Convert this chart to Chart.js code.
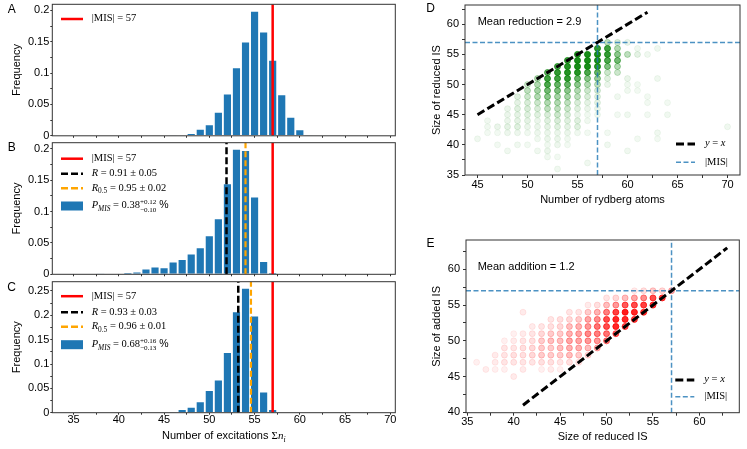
<!DOCTYPE html>
<html>
<head>
<meta charset="utf-8">
<script src="https://cdn.jsdelivr.net/npm/chart.js@4.4.1/dist/chart.umd.min.js"></script>
<style>
  body { margin: 0; background: #fff; }
  #fig { position: relative; width: 747px; height: 449px; overflow: hidden; background: #fff; }
  #fig canvas { position: absolute; }
</style>
</head>
<body>
<div id="fig">
  <canvas id="histA" width="400" height="140" style="left:0;top:0"></canvas>
  <canvas id="histB" width="400" height="140" style="left:0;top:140px"></canvas>
  <canvas id="histC" width="400" height="169" style="left:0;top:280px"></canvas>
  <canvas id="scatD" width="367" height="220" style="left:380px;top:0"></canvas>
  <canvas id="scatE" width="367" height="229" style="left:380px;top:220px"></canvas>
</div>
<script>
const SANS = '"Liberation Sans", Arial, sans-serif';
const SERIF = '"Liberation Serif", "Times New Roman", serif';
Chart.defaults.font.family = SANS;
Chart.defaults.font.size = 11;
Chart.defaults.color = '#000';

// ---- histograms (A, B, C) ----
const MIS = 57;
const histXTicks = [35, 37.5, 40, 42.5, 45, 47.5, 50, 52.5, 55, 57.5, 60, 62.5, 65, 67.5, 70];
const freqTicksAB = [0, 0.025, 0.05, 0.075, 0.1, 0.125, 0.15, 0.175, 0.2];
const freqTicksC = [0, 0.025, 0.05, 0.075, 0.1, 0.125, 0.15, 0.175, 0.2, 0.225, 0.25];

// A: raw samples
const binsA = [46, 47, 48, 49, 50, 51, 52, 53, 54, 55, 56, 57, 58, 59, 60, 61, 62];
const freqA = [0.0005, 0.001, 0.004, 0.011, 0.018, 0.038, 0.067, 0.109, 0.150, 0.199, 0.166, 0.121, 0.066, 0.030, 0.010, 0.002, 0.001];
// B
const binsB = [38, 39, 40, 41, 42, 43, 44, 45, 46, 47, 48, 49, 50, 51, 52, 53, 54, 55, 56, 57];
const freqB = [0.0005, 0.001, 0.001, 0.003, 0.004, 0.009, 0.012, 0.011, 0.020, 0.024, 0.033, 0.043, 0.062, 0.089, 0.145, 0.200, 0.198, 0.124, 0.021, 0.003];
const rB = 51.9, r05B = 54.0;
// C
const binsC = [46, 47, 48, 49, 50, 51, 52, 53, 54, 55, 56, 57];
const freqC = [0.002, 0.007, 0.012, 0.023, 0.046, 0.068, 0.124, 0.208, 0.256, 0.199, 0.043, 0.007];
const rC = 53.2, r05C = 54.6;

// ---- D: rydberg atoms vs size of reduced IS (alpha ~ share of samples) ----
const rydberg = [45, 46, 47, 48, 49, 50, 51, 52, 53, 54, 55, 56, 57, 58, 59, 60, 61, 62, 63, 64, 70];
const reducedD = [
  [41],
  [42, 43, 44],
  [40, 42, 43],
  [39, 42, 43, 44, 45, 46],
  [40, 42, 43, 44, 45, 46, 47, 48],
  [40, 42, 43, 44, 45, 46, 47, 48, 49, 50],
  [39, 41, 42, 43, 44, 45, 46, 47, 48, 49, 50, 51],
  [38, 39, 40, 41, 42, 43, 44, 45, 46, 47, 48, 49, 50, 51, 52],
  [36, 38, 40, 41, 42, 43, 44, 45, 46, 47, 48, 49, 50, 51, 52, 53],
  [40, 41, 42, 43, 44, 45, 46, 47, 48, 49, 50, 51, 52, 53, 54],
  [42, 43, 44, 45, 46, 47, 48, 49, 50, 51, 52, 53, 54, 55],
  [37, 42, 44, 45, 46, 47, 48, 49, 50, 51, 52, 53, 54, 55],
  [45, 46, 47, 48, 49, 50, 51, 52, 53, 54, 55, 56],
  [40, 42, 50, 51, 52, 53, 54, 55, 56, 57],
  [45, 48, 52, 53, 54, 55, 56, 57],
  [39, 45, 49, 50, 51, 55, 57],
  [41, 49, 50, 55, 56],
  [45, 47, 48, 55],
  [41, 42, 51, 56],
  [45, 47],
  [43]
];
const shareD = [
  [.06],
  [.05, .06, .06],
  [.05, .05, .08],
  [.06, .07, .1, .08, .08, .08],
  [.06, .07, .12, .1, .1, .12, .1, .12],
  [.05, .06, .08, .1, .12, .15, .15, .2, .25, .2],
  [.06, .06, .07, .08, .08, .12, .15, .2, .3, .35, .3, .3],
  [.06, .08, .06, .08, .08, .1, .12, .15, .25, .3, .45, .55, .7, .75, .6],
  [.06, .05, .07, .08, .08, .12, .15, .2, .25, .3, .35, .5, .6, .75, .8, .7],
  [.05, .06, .08, .1, .12, .15, .2, .25, .35, .45, .6, .8, .85, .85, .75],
  [.06, .12, .12, .08, .12, .15, .25, .3, .45, .6, .85, .9, .9, .85],
  [.06, .05, .06, .06, .08, .1, .15, .2, .3, .45, .7, .9, .9, .9],
  [.06, .08, .1, .12, .15, .25, .4, .6, .85, .9, .9, .8],
  [.06, .05, .08, .12, .2, .5, .7, .8, .75, .25],
  [.05, .06, .2, .3, .55, .45, .3, .15],
  [.06, .06, .06, .06, .08, .25, .08],
  [.05, .05, .05, .1, .06],
  [.05, .05, .05, .06],
  [.05, .06, .06, .06],
  [.06, .05],
  [.06]
];
const dXLim = [43.75, 71.25], dYLim = [35, 63.2];
const dXTicks = [45, 47.5, 50, 52.5, 55, 57.5, 60, 62.5, 65, 67.5, 70];
const dYTicks = [35, 37.5, 40, 42.5, 45, 47.5, 50, 52.5, 55, 57.5, 60, 62.5];

// ---- E: size of reduced IS vs size of added IS ----
const reducedE = [36, 37, 38, 39, 40, 41, 42, 43, 44, 45, 46, 47, 48, 49, 50, 51, 52, 53, 54, 55, 56, 57];
const addedE = [
  [47],
  [46],
  [46, 47, 48],
  [46, 47, 48, 49, 50],
  [45, 47, 48, 49, 50, 51],
  [46, 47, 48, 49, 50, 51, 54],
  [47, 48, 49, 50, 51, 52],
  [46, 47, 48, 49, 50, 51, 52],
  [46, 47, 48, 49, 50, 51, 52, 53],
  [46, 47, 48, 49, 50, 51, 52, 53],
  [47, 48, 49, 50, 51, 52, 53, 54],
  [47, 48, 49, 50, 51, 52, 53, 54],
  [48, 49, 50, 51, 52, 53, 54, 55],
  [49, 50, 51, 52, 53, 54, 55],
  [50, 51, 52, 53, 54, 55, 56],
  [51, 52, 53, 54, 55, 56],
  [52, 53, 54, 55, 56],
  [53, 54, 55, 56, 57],
  [54, 55, 56, 57],
  [55, 56, 57],
  [56, 57],
  [57]
];
const shareE = [
  [.06],
  [.07],
  [.06, .08, .08],
  [.06, .1, .1, .1, .06],
  [.08, .1, .12, .1, .08, .06],
  [.08, .1, .12, .12, .1, .08, .08],
  [.1, .15, .15, .12, .1, .08],
  [.06, .12, .2, .2, .2, .15, .1],
  [.08, .12, .2, .2, .25, .2, .12, .1],
  [.06, .1, .2, .25, .25, .2, .15, .12],
  [.12, .25, .3, .35, .3, .25, .15, .1],
  [.1, .2, .3, .35, .35, .3, .2, .1],
  [.15, .25, .4, .45, .4, .35, .2, .08],
  [.3, .4, .5, .55, .45, .3, .12],
  [.5, .55, .7, .7, .5, .25, .1],
  [.6, .85, .85, .75, .4, .15],
  [.7, .85, .9, .65, .25],
  [.75, .85, .7, .35, .08],
  [.8, .75, .45, .12],
  [.8, .7, .2],
  [.75, .15],
  [.3]
];
const eXLim = [34.86, 64.3], eYLim = [39.95, 64.1];
const eXTicks = [35, 37.5, 40, 42.5, 45, 47.5, 50, 52.5, 55, 57.5, 60, 62.5];
const eYTicks = [40, 42.5, 45, 47.5, 50, 52.5, 55, 57.5, 60, 62.5];

const BLUE = '#1f77b4';
const REFBLUE = 'rgba(31,119,180,0.8)';

// rich text (sub/superscripts), y = centre of capitals
function drawRich(ctx, x, yc, parts, size, dry) {
  const base = yc + size * 0.33;
  ctx.textBaseline = 'alphabetic';
  ctx.textAlign = 'left';
  ctx.fillStyle = '#000';
  for (const p of parts) {
    if (p.sup !== undefined) {
      ctx.font = (size * 0.68) + 'px ' + SERIF;
      if (!dry) {
        ctx.fillText(p.sup, x, base - size * 0.42);
        ctx.fillText(p.sub, x, base + size * 0.3);
      }
      x += Math.max(ctx.measureText(p.sup).width, ctx.measureText(p.sub).width);
      continue;
    }
    const fs = p.low ? size * 0.7 : size;
    ctx.font = (p.it ? 'italic ' : '') + fs + 'px ' + (p.sans ? SANS : SERIF);
    if (!dry) ctx.fillText(p.t, x, base + (p.low ? size * 0.25 : 0));
    x += ctx.measureText(p.t).width;
  }
  return x;
}

function drawHandle(ctx, h, x0, x1, y) {
  ctx.save();
  if (h.box) {
    ctx.fillStyle = h.box;
    ctx.fillRect(x0, y - 4.5, x1 - x0, 9);
  } else {
    ctx.strokeStyle = h.color;
    ctx.lineWidth = h.width;
    ctx.setLineDash(h.dash || []);
    ctx.beginPath();
    ctx.moveTo(x0, y);
    ctx.lineTo(x1, y);
    ctx.stroke();
  }
  ctx.restore();
}

const misRow = (y) => ({ y, h: { color: '#ff0000', width: 2.5 }, parts: [{ t: '|MIS| = 57' }] });
const legendA = [misRow(14.7)];
const legendB = [
  misRow(16),
  { y: 31, h: { color: '#000', width: 2.5, dash: [7, 3] }, parts: [{ t: 'R', it: 1 }, { t: ' = 0.91 ± 0.05' }] },
  { y: 45.5, h: { color: '#ffa500', width: 2.5, dash: [7, 3] }, parts: [{ t: 'R', it: 1 }, { t: '0.5', low: 1 }, { t: ' = 0.95 ± 0.02' }] },
  { y: 63.3, h: { box: BLUE }, parts: [{ t: 'P', it: 1 }, { t: 'MIS', it: 1, low: 1 }, { t: ' = 0.38' }, { sup: '+0.12', sub: '−0.10' }, { t: ' %', sans: 1 }] }
];
const legendC = [
  misRow(14.5),
  { y: 30.6, h: { color: '#000', width: 2.5, dash: [7, 3] }, parts: [{ t: 'R', it: 1 }, { t: ' = 0.93 ± 0.03' }] },
  { y: 45, h: { color: '#ffa500', width: 2.5, dash: [7, 3] }, parts: [{ t: 'R', it: 1 }, { t: '0.5', low: 1 }, { t: ' = 0.96 ± 0.01' }] },
  { y: 63, h: { box: BLUE }, parts: [{ t: 'P', it: 1 }, { t: 'MIS', it: 1, low: 1 }, { t: ' = 0.68' }, { sup: '+0.16', sub: '−0.13' }, { t: ' %', sans: 1 }] }
];
const eqRows = (y1, y2) => [
  { y: y1, h: { color: '#000', width: 3, dash: [8, 3.5] }, parts: [{ t: 'y', it: 1 }, { t: ' = ' }, { t: 'x', it: 1 }] },
  { y: y2, h: { color: REFBLUE, width: 1.5, dash: [5, 2.5] }, parts: [{ t: '|MIS|' }] }
];

const decoSpecs = {
  histA: { letter: ['A', 11.7, 9], legend: { anchor: 'tl', rows: legendA } },
  histB: { letter: ['B', 11.7, 7], legend: { anchor: 'tl', rows: legendB } },
  histC: { letter: ['C', 11.7, 6.3], legend: { anchor: 'tl', rows: legendC },
           xTitle: { y: 155.7, parts: [{ t: 'Number of excitations ', sans: 1 }, { t: 'Σ' }, { t: 'n', it: 1 }, { t: 'i', it: 1, low: 1 }] } },
  scatD: { letter: ['D', 50.5, 8], note: ['Mean reduction = 2.9', 12.7, 16.3], legend: { anchor: 'br', rows: eqRows(31, 12.7) } },
  scatE: { letter: ['E', 50.5, 22.3], note: ['Mean addition = 1.2', 11.7, 25.7], legend: { anchor: 'br', rows: eqRows(32.7, 16) } }
};

const decoPlugin = {
  id: 'deco',
  afterDraw(chart) {
    const s = decoSpecs[chart.canvas.id];
    const { ctx, chartArea: a } = chart;
    ctx.save();
    ctx.strokeStyle = '#333';
    ctx.lineWidth = 1;
    ctx.strokeRect(a.left, a.top, a.right - a.left, a.bottom - a.top);
    ctx.fillStyle = '#000';
    ctx.textBaseline = 'alphabetic';
    ctx.textAlign = 'center';
    ctx.font = '12px ' + SANS;
    ctx.fillText(s.letter[0], s.letter[1], s.letter[2] + 4.3);
    if (s.note) {
      ctx.textAlign = 'left';
      ctx.font = '11px ' + SANS;
      ctx.fillText(s.note[0], a.left + s.note[1], a.top + s.note[2] + 4);
    }
    const lg = s.legend;
    lg.rows.forEach(r => {
      let x0, x1, tx, y;
      if (lg.anchor === 'tl') {
        x0 = a.left + 8.7; x1 = a.left + 30.7; tx = a.left + 39.4; y = a.top + r.y;
      } else {
        x0 = a.right - 64; x1 = a.right - 45; tx = a.right - 35; y = a.bottom - r.y;
      }
      drawHandle(ctx, r.h, x0, x1, y);
      drawRich(ctx, tx, y - 1, r.parts, 10.5);
    });
    if (s.xTitle) {
      const w = drawRich(ctx, 0, 0, s.xTitle.parts, 11, true);
      drawRich(ctx, (a.left + a.right) / 2 - w / 2, s.xTitle.y, s.xTitle.parts, 11);
    }
    ctx.restore();
  }
};

function axis(o) {
  return {
    type: 'linear', min: o.min, max: o.max, offset: false,
    afterBuildTicks: sc => { sc.ticks = o.ticks.map(v => ({ value: v })); },
    afterFit: sc => {
      if (o.w !== undefined) sc.width = o.w;
      if (o.h !== undefined) sc.height = o.h;
      sc.paddingTop = 0; sc.paddingBottom = 0; sc.paddingLeft = 0; sc.paddingRight = 0;
    },
    ticks: { display: o.labels !== false, autoSkip: false, maxRotation: 0, minRotation: 0,
             padding: o.pad || 0, callback: o.fmt, font: { size: 11 } },
    grid: { drawOnChartArea: false, offset: false, tickLength: o.tl || 2, color: '#333', lineWidth: 1 },
    border: { display: false },
    title: o.title ? { display: true, text: o.title, padding: o.tpad, font: { size: 11 } } : { display: false }
  };
}

const fmtMajor5 = v => (v % 5 === 0 ? String(v) : '');
const fmtFreq = v => (Math.abs(v * 20 - Math.round(v * 20)) < 1e-6 ? String(+v.toFixed(2)) : '');

function vline(x, y0, y1, color, width, dash) {
  return { type: 'line', data: [{ x, y: y0 }, { x, y: y1 }], borderColor: color, borderWidth: width,
           borderDash: dash || [], pointRadius: 0, order: 0 };
}

function histChart(id, bins, freq, lines, yMax, yTicks, xLabels, pad, xh) {
  const datasets = lines.map(l => vline(l.x, 0, yMax, l.color, l.width, l.dash));
  datasets.push({
    type: 'bar', data: bins.map((b, i) => ({ x: b, y: freq[i] })),
    backgroundColor: BLUE, borderColor: 'rgba(255,255,255,0.6)', borderWidth: 0.8,
    barPercentage: 0.97, categoryPercentage: 1, order: 5
  });
  return new Chart(document.getElementById(id), {
    type: 'bar',
    data: { datasets },
    options: {
      responsive: false, animation: false, events: [], devicePixelRatio: 1,
      layout: { padding: pad },
      plugins: { legend: { display: false }, tooltip: { enabled: false } },
      scales: {
        x: axis({ min: 32.65, max: 70.55, ticks: histXTicks, fmt: fmtMajor5, labels: xLabels, h: xh, tl: 2, pad: -1 }),
        y: axis({ min: 0, max: yMax, ticks: yTicks, fmt: fmtFreq, w: 52.3, tl: 2, pad: 1,
                  title: 'Frequency', tpad: { top: 10.4, bottom: 0 } })
      }
    },
    plugins: [decoPlugin]
  });
}

const redLine = { x: MIS, color: '#ff0000', width: 2.5 };
histChart('histA', binsA, freqA, [redLine], 0.2096, freqTicksAB, false,
  { top: 4.3, right: 4.7, left: 0, bottom: 0 }, 4.2);
histChart('histB', binsB, freqB,
  [redLine, { x: rB, color: '#000', width: 2.5, dash: [7, 3] }, { x: r05B, color: '#ffa500', width: 2.2, dash: [6, 3] }],
  0.21, freqTicksAB, false, { top: 2.7, right: 4.7, left: 0, bottom: 0 }, 5.7);
histChart('histC', binsC, freqC,
  [redLine, { x: rC, color: '#000', width: 2.5, dash: [7, 3] }, { x: r05C, color: '#ffa500', width: 2.2, dash: [6, 3] }],
  0.269, freqTicksC, true, { top: 1.7, right: 4.7, left: 0, bottom: 0 }, 36.3);

function scatterPoints(cols, rows, alphas, rgb) {
  const pts = [], colors = [];
  cols.forEach((x, i) => rows[i].forEach((y, j) => {
    pts.push({ x, y });
    colors.push('rgba(' + rgb + ',' + alphas[i][j] + ')');
  }));
  return { pts, colors };
}

function scatChart(id, sc, xLim, yLim, xTicks, yTicks, diag, xTitle, yTitle, pad, xh, yw, xtp) {
  return new Chart(document.getElementById(id), {
    type: 'scatter',
    data: {
      datasets: [
        { type: 'line', data: [{ x: diag[0], y: diag[0] }, { x: diag[1], y: diag[1] }], borderColor: '#000',
          borderWidth: 3, borderDash: [8, 3.5], pointRadius: 0, showLine: true, order: 0 },
        { type: 'line', data: [{ x: xLim[0], y: MIS }, { x: xLim[1], y: MIS }], borderColor: REFBLUE,
          borderWidth: 1.5, borderDash: [5, 2.5], pointRadius: 0, showLine: true, order: 1 },
        Object.assign(vline(MIS, yLim[0], yLim[1], REFBLUE, 1.5, [5, 2.5]), { order: 1, showLine: true }),
        { type: 'scatter', data: sc.pts, pointBackgroundColor: sc.colors, pointBorderColor: sc.colors,
          pointRadius: 3, pointBorderWidth: 1, pointHoverRadius: 3, order: 5 }
      ]
    },
    options: {
      responsive: false, animation: false, events: [], devicePixelRatio: 1,
      layout: { padding: pad },
      plugins: { legend: { display: false }, tooltip: { enabled: false } },
      scales: {
        x: axis({ min: xLim[0], max: xLim[1], ticks: xTicks, fmt: fmtMajor5, h: xh, tl: 3, pad: 0,
                  title: xTitle, tpad: { top: 0, bottom: xtp } }),
        y: axis({ min: yLim[0], max: yLim[1], ticks: yTicks, fmt: fmtMajor5, w: yw, tl: 3, pad: 3,
                  title: yTitle, tpad: { top: 50.5, bottom: 0 } })
      }
    },
    plugins: [decoPlugin]
  });
}

scatChart('scatD', scatterPoints(rydberg, reducedD, shareD, '0,128,0'), dXLim, dYLim, dXTicks, dYTicks, [45, 62],
  'Number of rydberg atoms', 'Size of reduced IS', { top: 5, right: 7, left: 0, bottom: 0 }, 45, 85, 13.4);
scatChart('scatE', scatterPoints(reducedE, addedE, shareE, '255,0,0'), eXLim, eYLim, eXTicks, eYTicks, [41, 63],
  'Size of reduced IS', 'Size of added IS', { top: 20, right: 7.7, left: 0, bottom: 0 }, 36.3, 86, 5.7);
</script>
</body>
</html>
